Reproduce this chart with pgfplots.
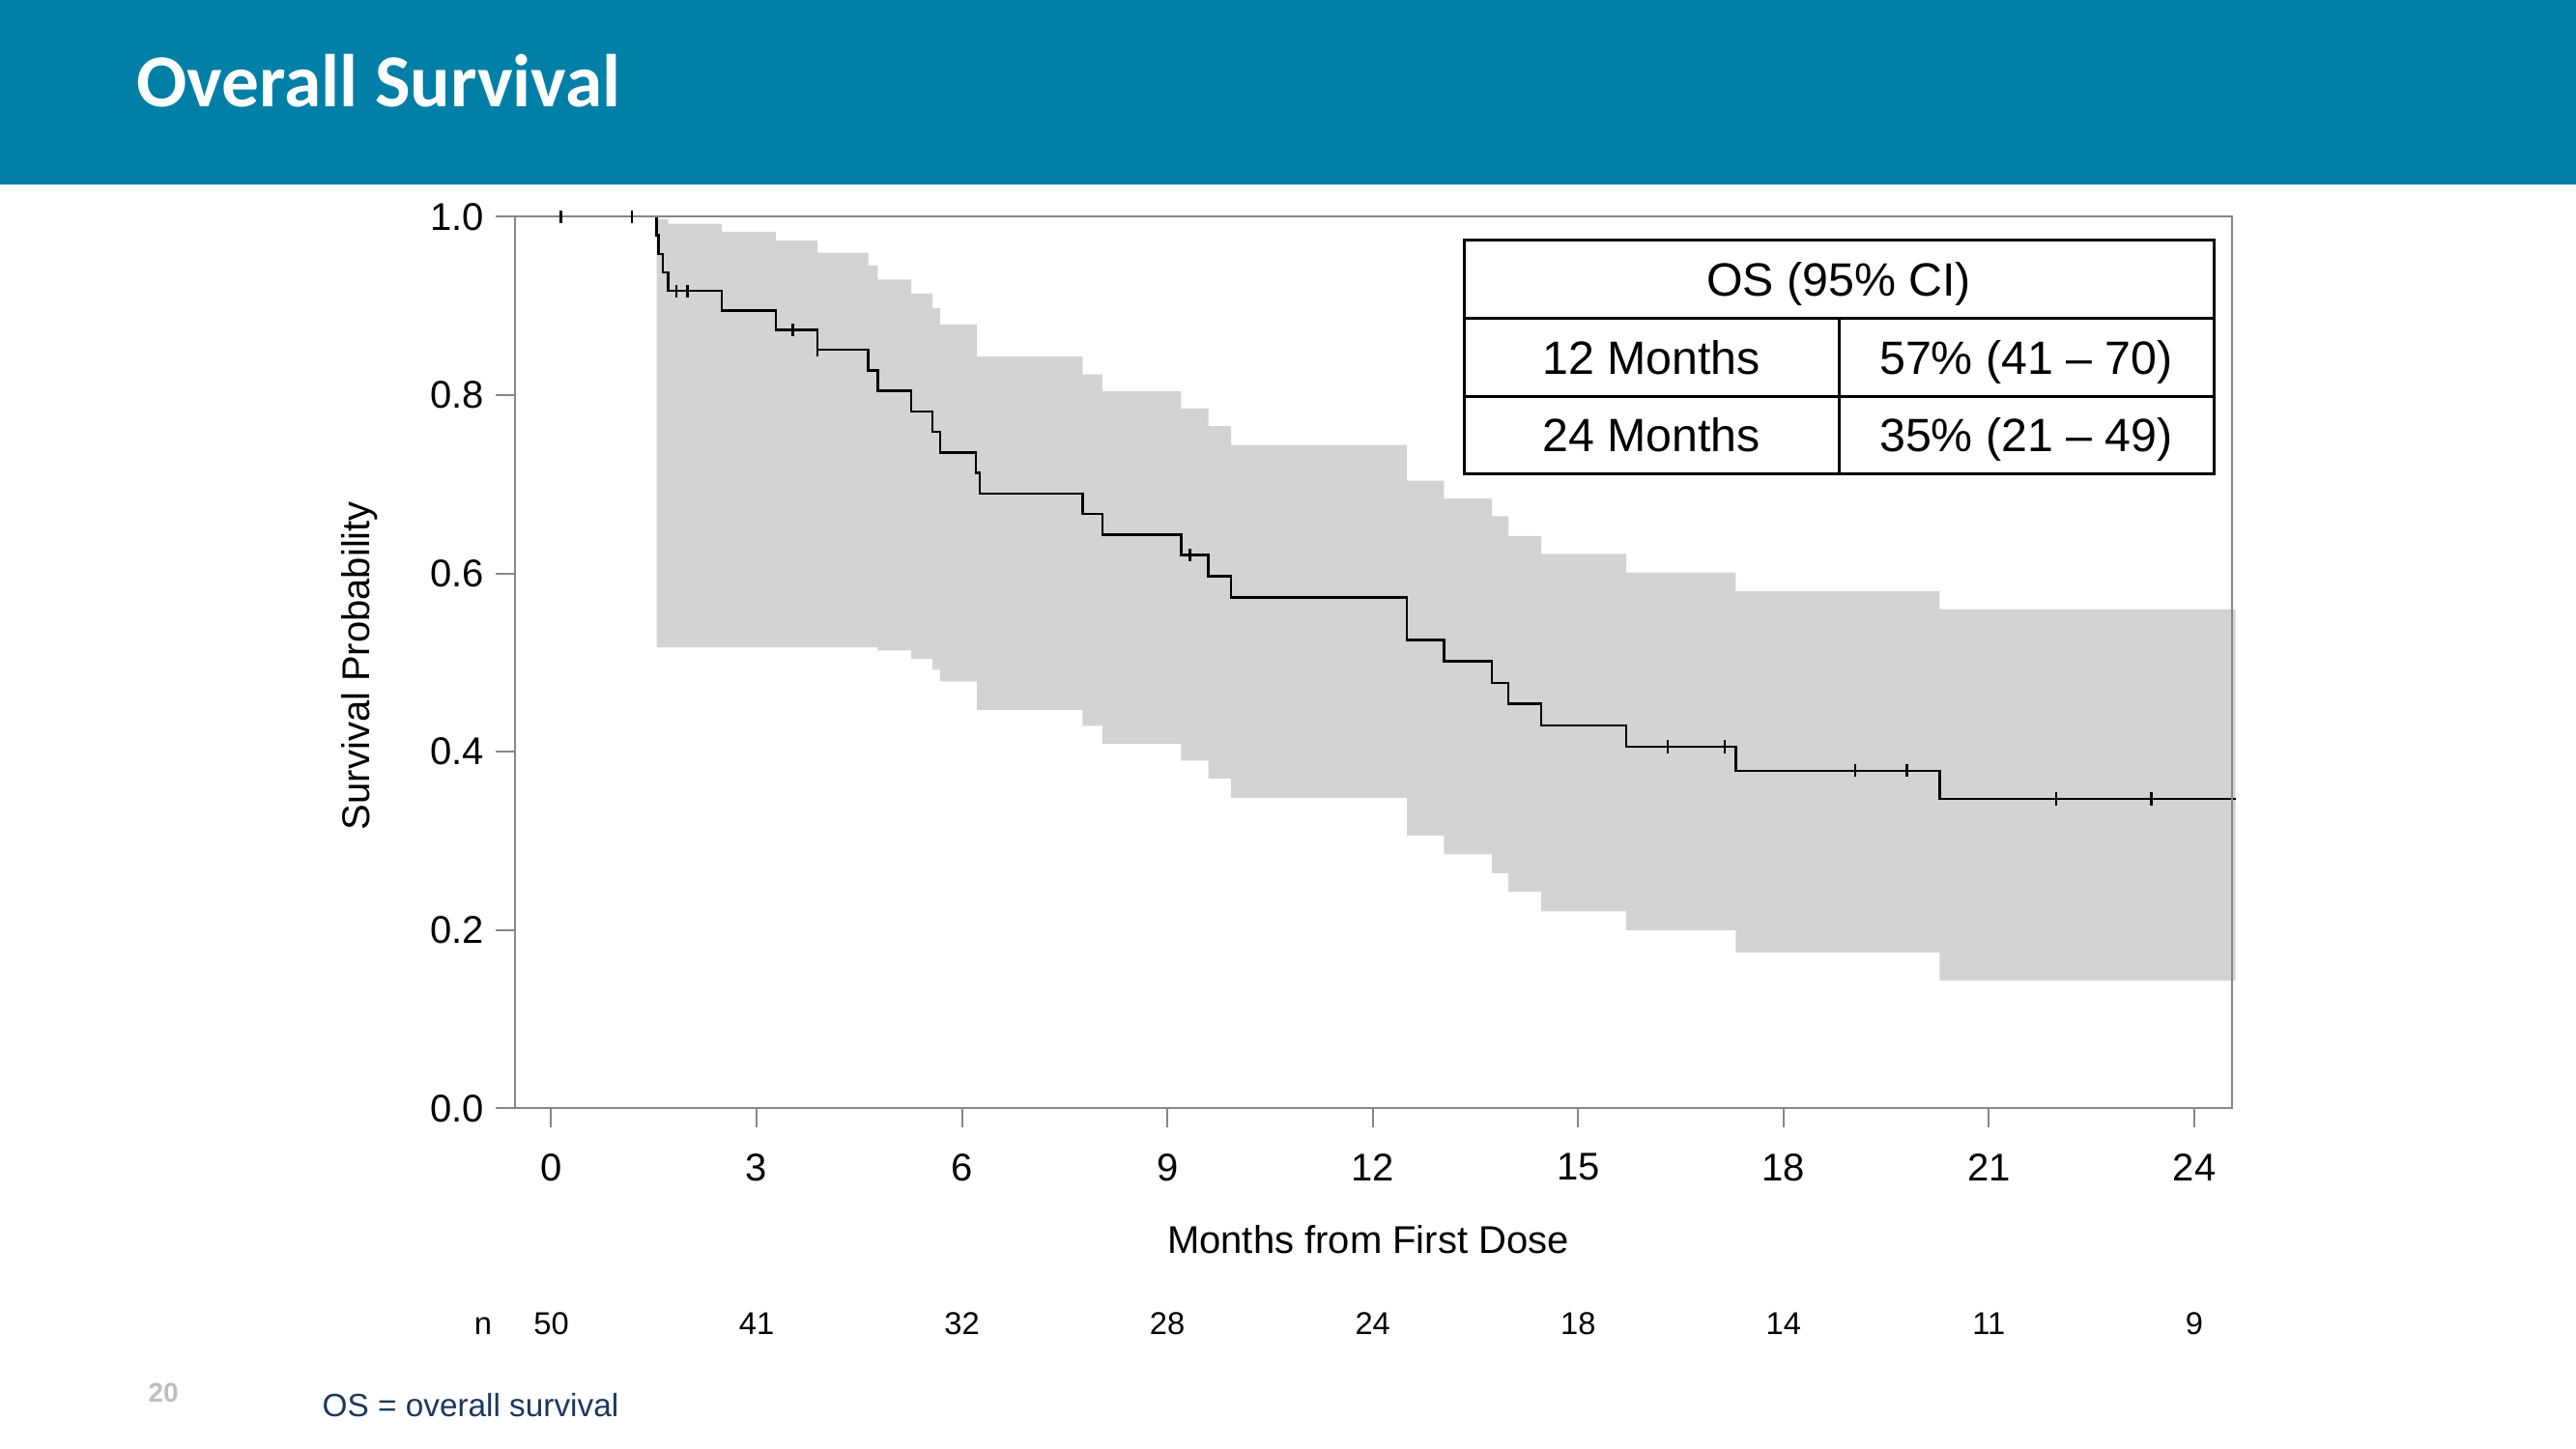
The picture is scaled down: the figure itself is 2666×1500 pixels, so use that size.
\documentclass[border=0pt]{standalone}
\usepackage{fontspec}
\setmainfont{Liberation Sans}
\newfontfamily\titlefont{Carlito}
\usepackage{pgfplots}
\pgfplotsset{compat=1.18}
\definecolor{hdr}{RGB}{0,127,167}
\definecolor{cigray}{RGB}{211,211,211}
\definecolor{axgray}{RGB}{135,135,135}
\definecolor{navy}{RGB}{30,55,95}
\definecolor{pagegray}{RGB}{191,191,191}
\begin{document}
\begin{tikzpicture}
\begin{scope}[x=0.3pt,y=-0.3pt]
\path[fill=white] (0,0) rectangle (2666,1500);
\fill[hdr] (0,0) rectangle (2666,191);
\node[anchor=base west, inner sep=0, text=white, font=\titlefont\bfseries\fontsize{23.2}{27}\selectfont] at (141,111) {Overall Survival};
\node[rotate=90, anchor=base, inner sep=0, font=\fontsize{12}{14}\selectfont] at (382,689) {Survival Probability};
\node[anchor=base, inner sep=0, font=\fontsize{12}{14}\selectfont] at (1416,1297) {Months from First Dose};
\node[anchor=base, inner sep=0, font=\fontsize{9.8}{11}\selectfont] at (500,1381.7) {n};
\foreach \v [count=\i from 0] in {50,41,32,28,24,18,14,11,9}
  \node[anchor=base, inner sep=0, font=\fontsize{9.8}{11}\selectfont] at ({570.5+212.55*\i},1381.7) {\v};
\node[anchor=base west, inner sep=0, text=pagegray, font=\bfseries\fontsize{8.4}{10}\selectfont] at (153,1451.7) {20};
\node[anchor=base west, inner sep=0, text=navy, font=\fontsize{10}{12}\selectfont] at (333,1466.7) {OS = overall survival};
\end{scope}
\begin{axis}[
  at={(159.9pt,-344.25pt)}, anchor=south west,
  scale only axis, width=533.1pt, height=276.96pt,
  xmin=-0.529, xmax=24.55, ymin=0, ymax=1,
  clip=false, axis on top,
  axis line style={axgray, line width=0.6pt},
  tick style={axgray, line width=0.6pt},
  tick align=outside, major tick length=6pt,
  xtick pos=lower, ytick pos=left,
  xtick={0,3,...,24}, ytick={0,0.2,0.4,0.6,0.8,1.0},
  yticklabel style={/pgf/number format/fixed, /pgf/number format/precision=1, /pgf/number format/fixed zerofill},
  xticklabel style={yshift=-4.5pt},
  ticklabel style={font=\fontsize{12}{14}\selectfont, text=black},
  /pgf/number format/assume math mode=true,
]
\addplot[fill=cigray, draw=none] coordinates {
(1.54,0.517)
(1.54,0.997) (1.71,0.997) (1.71,0.992) (2.49,0.992) (2.49,0.983) (3.28,0.983) (3.28,0.973) (3.89,0.973) (3.89,0.9595) (4.63,0.9595) (4.63,0.9455) (4.77,0.9455) (4.77,0.9296) (5.26,0.9296) (5.26,0.9137) (5.57,0.9137) (5.57,0.8974) (5.68,0.8974) (5.68,0.879) (6.22,0.879) (6.22,0.843) (7.76,0.843) (7.76,0.823) (8.05,0.823) (8.05,0.804) (9.20,0.804) (9.20,0.785) (9.60,0.785) (9.60,0.765) (9.93,0.765) (9.93,0.744) (12.50,0.744) (12.50,0.704) (13.04,0.704) (13.04,0.684) (13.74,0.684) (13.74,0.664) (13.98,0.664) (13.98,0.642) (14.46,0.642) (14.46,0.622) (15.70,0.622) (15.70,0.601) (17.30,0.601) (17.30,0.580) (20.28,0.580) (20.28,0.560) (24.6,0.560)
(24.6,0.1435) (20.28,0.1435) (20.28,0.175) (17.30,0.175) (17.30,0.200) (15.70,0.200) (15.70,0.221) (14.46,0.221) (14.46,0.243) (13.98,0.243) (13.98,0.264) (13.74,0.264) (13.74,0.285) (13.04,0.285) (13.04,0.306) (12.50,0.306) (12.50,0.348) (9.93,0.348) (9.93,0.370) (9.60,0.370) (9.60,0.390) (9.20,0.390) (9.20,0.409) (8.05,0.409) (8.05,0.429) (7.76,0.429) (7.76,0.447) (6.22,0.447) (6.22,0.479) (5.68,0.479) (5.68,0.492) (5.57,0.492) (5.57,0.504) (5.26,0.504) (5.26,0.5136) (4.77,0.5136) (4.77,0.517) (1.54,0.517)
};
\addplot[const plot, black, line width=0.75pt] coordinates {
(1.54,1) (1.54,0.9792) (1.57,0.9583) (1.63,0.9375) (1.71,0.9167) (2.49,0.8948) (3.28,0.8730) (3.89,0.8506) (4.63,0.8276) (4.77,0.8046) (5.26,0.7816) (5.57,0.7586) (5.68,0.7356) (6.20,0.7126) (6.26,0.6896) (7.76,0.6666) (8.05,0.6436) (9.20,0.6206) (9.60,0.5967) (9.93,0.5729) (12.50,0.5251) (13.04,0.5013) (13.74,0.4774) (13.98,0.4536) (14.46,0.4297) (15.70,0.4058) (17.30,0.3788) (20.28,0.3472) (24.6,0.3472)
};
\addplot[only marks, mark=|, mark size=2pt, mark options={line width=0.7pt, black}] coordinates {
(0.14,1) (1.18,1) (1.83,0.9167) (1.99,0.9167) (3.53,0.8730) (3.89,0.8506) (9.33,0.6206) (16.31,0.4058) (17.14,0.4058) (19.05,0.3788) (19.80,0.3788) (21.98,0.3472) (23.37,0.3472)
};
\end{axis}
\begin{scope}[x=0.3pt,y=-0.3pt]
\draw[line width=0.9pt, fill=white] (1515,249) rectangle (2291,491);
\draw[line width=0.9pt] (1515,329.5) -- (2291,329.5) (1515,410.5) -- (2291,410.5) (1903,329.5) -- (1903,491);
\node[anchor=base, inner sep=0, font=\fontsize{14.5}{17}\selectfont] at (1903,307) {OS (95\% CI)};
\node[anchor=base, inner sep=0, font=\fontsize{14.5}{17}\selectfont] at (1709,387.5) {12 Months};
\node[anchor=base, inner sep=0, font=\fontsize{14.5}{17}\selectfont] at (2097,387.5) {57\% (41 -- 70)};
\node[anchor=base, inner sep=0, font=\fontsize{14.5}{17}\selectfont] at (1709,468) {24 Months};
\node[anchor=base, inner sep=0, font=\fontsize{14.5}{17}\selectfont] at (2097,468) {35\% (21 -- 49)};
\end{scope}
\end{tikzpicture}
\end{document}
